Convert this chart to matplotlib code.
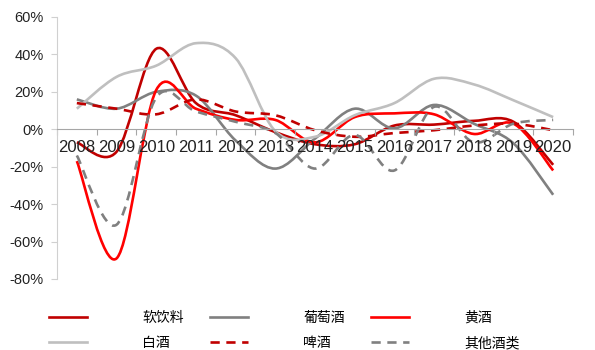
import matplotlib
matplotlib.use('Agg')
import matplotlib.pyplot as plt
import numpy as np
from matplotlib.path import Path
from matplotlib.patches import PathPatch
from matplotlib.lines import Line2D

plt.rcParams['font.family'] = ['Liberation Sans', 'Noto Sans CJK SC', 'DejaVu Sans']

# Data (growth rate, %)
years = ['2008', '2009', '2010', '2011', '2012', '2013', '2014',
         '2015', '2016', '2017', '2018', '2019', '2020']
soft_drink = [-7, -12, 43, 14, 7.5, -1.5, -8, -8, 2, 2.5, 4.5, 4, -19]   # 软饮料
wine = [16, 11, 20, 18, -6, -21, -5, 11, 0.5, 13, 3, -7.5, -35]          # 葡萄酒
yellow_wine = [-17, -69, 21, 11, 5, 5, -7, 6.5, 8.5, 8, -2.5, 3, -22]    # 黄酒
baijiu = [11, 28, 34, 46, 38, -1, -4, 7.5, 14, 27, 24, 15.5, 6.5]        # 白酒
beer = [14, 11, 8, 16, 9.5, 7.5, -0.5, -4, -2, -0.5, 2, 3, -0.5]         # 啤酒
other = [-14, -51, 17, 9.5, 4, -2, -21, -3, -22, 12, -7, 3, 5]           # 其他酒类

labels = ['软饮料', '葡萄酒', '黄酒', '白酒', '啤酒', '其他酒类']
series = [soft_drink, wine, yellow_wine, baijiu, beer, other]
colors = ['#C00000', '#808080', '#FF0000', '#BFBFBF', '#C00000', '#808080']
dashed = [False, False, False, False, True, True]


def smooth_path(xs, ys):
    # Catmull-Rom style bezier, like a spreadsheet "smoothed line"
    p = np.column_stack([xs, ys]).astype(float)
    ext = np.vstack([p[0], p, p[-1]])
    verts = [p[0]]
    codes = [Path.MOVETO]
    for i in range(len(p) - 1):
        p0, p1, p2, p3 = ext[i], ext[i + 1], ext[i + 2], ext[i + 3]
        c1 = p1 + (p2 - p0) / 6.0
        c2 = p2 - (p3 - p1) / 6.0
        verts += [c1, c2, p2]
        codes += [Path.CURVE4] * 3
    return Path(verts, codes)


fig = plt.figure(figsize=(5.95, 3.5), dpi=100)
ax = fig.add_axes([57 / 595, 1 - 279 / 350, (573 - 57) / 595, (279 - 17) / 350])

x = np.arange(len(years))
dash = (0, (3.5, 2.5))
for vals, c, d in zip(series, colors, dashed):
    patch = PathPatch(smooth_path(x, vals), fill=False, edgecolor=c, lw=1.9,
                      ls=dash if d else '-', capstyle='butt')
    ax.add_patch(patch)

ax.set_xlim(-0.5, len(years) - 0.5)
ax.set_ylim(-80, 60)

# axes styling
for s in ['top', 'right']:
    ax.spines[s].set_visible(False)
ax.spines['bottom'].set_position(('data', 0))
ax.spines['bottom'].set_color('#A6A6A6')
ax.spines['left'].set_color('#D0D0D0')

ax.set_yticks(np.arange(-80, 61, 20))
ax.set_yticklabels([f'{v}%' for v in range(-80, 61, 20)], fontsize=10.5, color='#222222')
ax.tick_params(axis='y', length=4, color='#D0D0D0', pad=5.5)

ax.set_xticks(np.arange(-0.5, len(years), 1.0))
ax.set_xticklabels([])
ax.set_xticks(x, minor=True)
ax.set_xticklabels(years, minor=True, fontsize=12, color='#222222')
ax.tick_params(axis='x', which='major', length=4, color='#A6A6A6', direction='out')
ax.tick_params(axis='x', which='minor', length=0, pad=8)

# legend
handles = [Line2D([], [], color=c, lw=1.9, ls=(dash if d else '-'))
           for c, d in zip(colors, dashed)]
order = [0, 3, 1, 4, 2, 5]
fig.legend([handles[i] for i in order], [labels[i] for i in order],
           loc='upper left', bbox_to_anchor=(49 / 595, 1 - 311 / 350), ncol=3,
           frameon=False, prop={'family': 'Noto Sans CJK SC', 'size': 10},
           handlelength=2.75, handletextpad=3.95, columnspacing=1.9,
           labelspacing=0.8, borderpad=0, borderaxespad=0)

fig.savefig('out.png', dpi=100)
